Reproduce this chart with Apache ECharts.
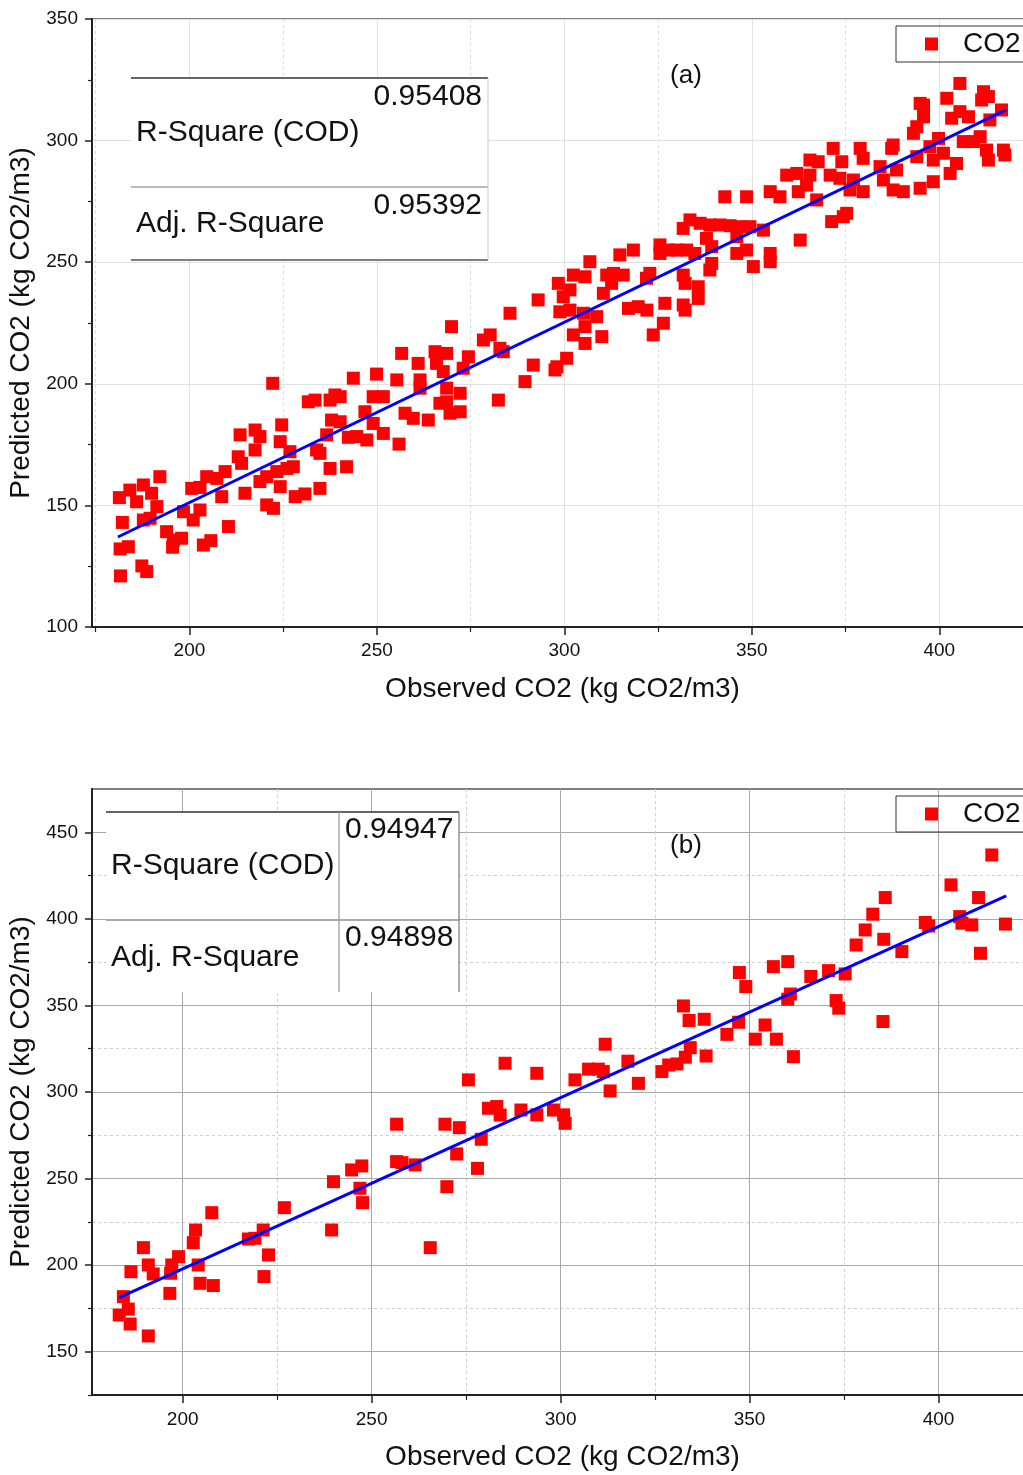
<!DOCTYPE html>
<html>
<head>
<meta charset="utf-8">
<title>Observed vs Predicted CO2</title>
<script src="https://cdn.jsdelivr.net/npm/echarts@6.0.0/dist/echarts.min.js"></script>
<style>
  html, body { margin: 0; padding: 0; background: #fff; }
  #chart { width: 1023px; height: 1475px; }
</style>
</head>
<body>
<div id="chart"></div>
<script>
// ---- data: [observed, predicted] ----
var pointsA = [
  [181.3,153.2],[184.1,156.3],[187.7,158.4],[185.9,151.5],[189.9,155.0],[191.3,149.5],[192.1,161.8],[182.1,143.0],[187.7,144.0],[189.5,144.7],
  [181.5,132.1],[183.7,133.0],[187.3,125.1],[188.6,122.8],[181.6,121.0],[193.9,139.2],[195.7,135.8],[197.9,136.5],[195.5,132.8],[203.7,133.7],
  [205.7,135.5],[210.4,141.3],[198.4,147.4],[201.0,144.0],[202.8,148.1],[200.6,157.0],[202.8,157.4],[204.6,161.8],[207.3,161.1],[209.5,163.9],
  [208.6,153.6],[213.5,179.0],[217.5,181.0],[218.8,178.3],[217.5,172.8],[213.0,170.0],[213.9,167.3],[214.8,155.0],[218.8,159.8],[220.6,161.8],
  [220.6,150.2],[222.4,148.8],[224.2,157.7],[224.6,183.1],[224.2,176.2],[226.8,172.1],[223.3,163.9],[226.0,165.2],[227.7,165.9],[228.2,153.6],
  [230.8,154.7],[234.8,157.0],[222.2,200.2],[231.7,192.6],[233.5,193.3],[237.5,193.3],[238.8,195.4],[240.2,194.7],[237.9,185.1],[240.2,184.4],
  [236.6,179.0],[233.9,172.8],[234.8,171.4],[237.5,165.2],[241.9,165.9],[242.4,178.0],[244.6,178.3],[247.3,176.9],[243.7,202.3],[249.9,204.0],
  [249.0,194.7],[251.7,194.7],[246.8,188.5],[249.0,183.7],[251.7,179.6],
  [255.3,201.6],[256.6,212.5],[261.0,208.4],[261.5,201.6],[261.5,198.2],[257.5,187.9],[259.7,185.8],[263.7,185.1],[265.5,213.2],[268.6,212.5],
  [265.9,208.4],[267.7,205.0],[269.9,223.5],[274.4,211.1],[273.0,206.4],[268.6,198.2],[272.2,196.1],[266.8,192.0],[268.6,192.6],[272.2,188.5],
  [269.5,187.9],[278.4,218.0],[280.2,220.1],[282.8,214.6],[283.7,213.2],[285.5,229.0],[282.4,193.3],[289.5,200.9],[291.7,207.7],[293.0,234.5],
  [298.0,207.0],[300.6,210.5],[297.5,205.7],[298.4,241.3],[302.4,244.7],[299.7,235.8],[301.5,238.6],[298.8,229.6],[301.5,230.3],[302.4,220.1],
  [255.9,175.2],
  [306.8,250.2],[305.5,244.0],[311.3,244.7],[313.1,245.4],[315.7,244.7],[310.4,237.2],[312.6,241.3],[314.8,253.0],[318.4,255.0],[322.8,245.4],
  [321.9,243.4],[325.5,257.1],[325.5,253.6],[327.7,255.0],[330.0,255.0],[332.6,255.0],[334.8,253.6],[305.1,229.0],[308.6,227.6],[305.5,223.5],
  [310.0,219.4],[305.5,216.6],[317.1,231.0],[319.7,231.7],[322.0,230.3],[326.8,233.1],[323.7,220.1],[326.4,224.9],[331.7,232.4],[332.2,230.3],
  [331.7,244.7],[332.2,241.3],[335.7,239.9],[335.7,235.1],[338.8,246.8],[339.3,249.5],[331.7,263.9],[333.5,267.4],[336.2,266.0],[338.8,265.3],
  [341.5,265.3],[344.2,265.0],[346.8,264.6],[349.5,264.6],[353.1,263.2],[337.9,259.8],[339.3,256.4],[346.0,253.6],[348.6,255.0],[346.0,260.5],
  [350.4,248.2],[354.9,250.2],[354.9,253.6],[362.9,259.1],[342.8,276.9],[348.6,276.9],[354.9,279.0],[357.5,276.9],[359.3,285.8],[362.0,286.5],
  [362.4,279.0],[364.6,281.7],[365.5,292.0],[367.7,291.3],[365.5,285.8],[367.3,275.6],[371.7,296.8],[374.0,291.3],[370.9,285.8],[373.5,284.5],
  [371.3,266.7],[374.4,268.7],[375.3,270.1],[376.2,279.7],[379.7,279.0],[377.1,283.8],[378.9,296.8],[379.7,292.7],[384.2,289.3],[385.1,283.8],
  [387.7,279.7],[390.4,279.0],[387.3,296.8],[387.7,298.2],[388.6,287.9],[394.9,280.4],[398.4,283.1],[393.1,303.0],[394.0,305.7],[395.8,309.8],
  [395.8,314.6],[394.9,315.3],[394.0,293.4],[397.5,297.5],[399.8,300.9],[398.4,292.0],[401.1,294.8],[402.9,286.5],[404.6,290.6],[402.0,317.4],
  [405.5,323.5],[405.5,311.9],[403.3,309.2],[407.8,309.8],[406.4,299.6],[409.1,299.6],[410.9,301.6],[411.8,320.1],[413.1,318.1],[411.3,316.7],
  [413.5,308.5],[416.6,312.6],[412.6,296.1],[413.1,292.0],[417.1,296.1],[417.5,294.1]
];
var pointsB = [
  [183.2,171.2],[185.6,174.6],[186.1,166.0],[184.3,181.8],[186.3,196.2],[189.6,210.1],[190.9,200.1],[192.2,194.9],[190.9,159.1],[196.6,183.7],
  [197.1,200.1],[196.8,195.3],[198.9,204.9],[202.8,213.0],[203.4,220.3],[204.1,200.1],[204.6,189.5],[208.1,188.2],[207.7,230.3],[217.4,215.1],
  [219.1,215.5],[221.3,220.3],[222.7,205.9],[221.5,193.4],[226.9,233.2],[239.4,220.3],[239.9,248.2],[244.7,255.0],[247.4,257.3],[246.9,244.4],
  [247.6,236.1],[256.6,281.4],[256.6,259.8],[258.0,259.2],[261.5,257.9],[265.5,210.1],[269.4,281.4],[269.9,245.3],[272.5,264.2],[273.2,279.4],
  [278.0,255.9],[279.0,272.7],[275.6,307.0],[280.9,290.6],[283.1,291.6],[284.0,286.7],[289.5,289.6],
  [285.3,316.6],[293.7,310.8],[311.8,327.6],[303.8,307.0],[307.4,313.2],[310.0,313.2],[311.3,311.8],[313.1,300.6],[317.8,317.8],
  [293.7,286.8],[298.1,289.6],[300.8,286.8],[301.2,281.9],[320.6,305.0],
  [326.8,311.8],[328.6,315.6],[330.8,316.2],[333.0,320.1],[334.3,325.6],[332.5,349.7],[334.0,341.3],[338.0,342.0],[338.5,320.8],[344.0,333.3],
  [347.1,340.3],[347.3,369.0],[349.0,360.9],[351.5,330.5],[354.1,338.7],[357.1,330.5],[356.3,372.4],[360.1,375.3],[360.8,356.6],[360.1,353.6],
  [361.6,320.4],[366.2,366.7],[370.9,370.1],[375.3,368.2],[372.9,352.8],[373.6,348.4],[378.2,384.9],[380.6,393.6],[382.6,402.7],[385.9,412.3],
  [385.5,388.2],[385.3,340.7],[390.3,381.1],[396.5,397.9],[397.4,395.9],[403.3,419.6],[405.6,401.3],[406.2,397.5],[408.8,396.5],[410.6,412.3],
  [411.1,380.1],[414.1,436.9],[417.7,397.0]
];
// linear fit end points
var fitA = [[180.9, 137.0], [417.8, 312.6]];
var fitB = [[183.2, 181.2], [417.9, 413.3]];

// tick values
var xMajor = [200, 250, 300, 350, 400];
var xMinor = [175, 225, 275, 325, 375, 425];
var yMajorA = [100, 150, 200, 250, 300, 350];
var yMinorA = [125, 175, 225, 275, 325];
var yMajorB = [150, 200, 250, 300, 350, 400, 450];
var yMinorB = [125, 175, 225, 275, 325, 375, 425];

var statsA = ['0.95408', '0.95392'];
var statsB = ['0.94947', '0.94898'];
var statNames = ['R-Square (COD)', 'Adj. R-Square'];

var FONT = "'Liberation Sans', Arial, sans-serif";

var chart = echarts.init(document.getElementById('chart'));

function majorAxis(grid, min, max, ticks, opts) {
  return {
    type: 'value', gridIndex: grid, min: min, max: max, position: opts.pos,
    name: opts.name, nameLocation: 'middle', nameGap: opts.nameGap,
    nameTextStyle: { fontSize: 28, fontFamily: FONT, color: '#111' },
    axisLine: { show: true, lineStyle: { color: '#222', width: 2 } },
    axisTick: { show: true, length: opts.tickLen, customValues: ticks, lineStyle: { color: '#222', width: 1.5 } },
    axisLabel: { customValues: ticks, fontSize: 19, fontFamily: FONT, color: '#111', margin: opts.margin },
    splitLine: { show: true, lineStyle: { color: opts.gridColor, width: 1 } }
  };
}

function minorAxis(grid, min, max, ticks, pos, tickLen, lineColor) {
  return {
    type: 'value', gridIndex: grid, min: min, max: max, position: pos,
    axisLine: { show: false },
    axisTick: { show: true, length: tickLen, customValues: ticks, lineStyle: { color: '#222', width: 1.2 } },
    axisLabel: { show: false },
    splitLine: { show: !!lineColor, lineStyle: { color: lineColor || '#ccc', width: 1, type: [3, 3] } }
  };
}

function legendBox(top) {
  return {
    data: ['CO2'], left: 896, top: top, orient: 'horizontal',
    padding: [4, 29, 4, 29], icon: 'rect', itemWidth: 13, itemHeight: 13,
    borderColor: '#333', borderWidth: 1,
    textStyle: { fontSize: 28, fontFamily: FONT, color: '#111', padding: [0, 0, 0, 20] }
  };
}

function txt(x, y, s, size, align) {
  return { type: 'text', z: 100, x: x, y: y,
    style: { text: s, fontSize: size, fontFamily: FONT, fill: '#111', align: align || 'left', verticalAlign: 'middle' } };
}
function ln(x1, y1, x2, y2, color, w) {
  return { type: 'line', z: 100, shape: { x1: x1, y1: y1, x2: x2, y2: y2 }, style: { stroke: color, lineWidth: w || 1 } };
}
function box(x, y, w, h) {
  return { type: 'rect', z: 99, shape: { x: x, y: y, width: w, height: h }, style: { fill: '#fff' } };
}

chart.setOption({
  animation: false,
  backgroundColor: '#fff',
  grid: [
    { left: 92, top: 19, right: -10, height: 608, show: true, borderColor: '#555', borderWidth: 1.5, outerBoundsMode: 'none' },
    { left: 92, top: 789, right: -10, height: 606, show: true, borderColor: '#555', borderWidth: 1.5, outerBoundsMode: 'none' }
  ],
  legend: [legendBox(26), legendBox(796)],
  xAxis: [
    majorAxis(0, 174, 425, xMajor, { pos: 'bottom', name: 'Observed CO2 (kg CO2/m3)', nameGap: 48, tickLen: 8, margin: 14, gridColor: '#e2e2e2' }),
    minorAxis(0, 174, 425, xMinor, 'bottom', 5, '#dcdcdc'),
    majorAxis(1, 176, 425, xMajor, { pos: 'bottom', name: 'Observed CO2 (kg CO2/m3)', nameGap: 48, tickLen: 8, margin: 15, gridColor: '#a8a8a8' }),
    minorAxis(1, 176, 425, xMinor, 'bottom', 5, '#cfcfcf')
  ],
  yAxis: [
    majorAxis(0, 100, 350, yMajorA, { pos: 'left', name: 'Predicted CO2 (kg CO2/m3)', nameGap: 54, tickLen: 7, margin: 14, gridColor: '#e2e2e2' }),
    minorAxis(0, 100, 350, yMinorA, 'left', 4, null),
    majorAxis(1, 125, 475, yMajorB, { pos: 'left', name: 'Predicted CO2 (kg CO2/m3)', nameGap: 54, tickLen: 7, margin: 14, gridColor: '#a8a8a8' }),
    minorAxis(1, 125, 475, yMinorB, 'left', 4, '#cfcfcf')
  ],
  series: [
    { name: 'CO2', type: 'scatter', xAxisIndex: 0, yAxisIndex: 0, data: pointsA,
      symbol: 'rect', symbolSize: 13, itemStyle: { color: '#ff0000', opacity: 1 } },
    { name: 'fitA', type: 'line', xAxisIndex: 0, yAxisIndex: 0, data: fitA,
      showSymbol: false, lineStyle: { color: '#0000ff', width: 3 }, z: 5 },
    { name: 'CO2', type: 'scatter', xAxisIndex: 2, yAxisIndex: 2, data: pointsB,
      symbol: 'rect', symbolSize: 13, itemStyle: { color: '#ff0000', opacity: 1 } },
    { name: 'fitB', type: 'line', xAxisIndex: 2, yAxisIndex: 2, data: fitB,
      showSymbol: false, lineStyle: { color: '#0000ff', width: 3 }, z: 5 }
  ],
  graphic: [
    // stats table (a)
    box(131, 78, 357, 182),
    ln(131, 78, 488, 78, '#333', 1.5),
    ln(131, 187, 488, 187, '#777', 1),
    ln(131, 260, 488, 260, '#555', 1.5),
    ln(488, 78, 488, 260, '#c8c8c8', 1),
    txt(482, 97, statsA[0], 30, 'right'),
    txt(136, 133, statNames[0], 30),
    txt(482, 206, statsA[1], 30, 'right'),
    txt(136, 224, statNames[1], 30),
    txt(686, 76, '(a)', 26, 'center'),
    // stats table (b)
    box(106, 812, 353, 180),
    ln(106, 812, 459, 812, '#333', 1.5),
    ln(106, 920, 459, 920, '#555', 1),
    ln(339, 812, 339, 992, '#999', 1.2),
    ln(459, 812, 459, 992, '#777', 1.2),
    txt(345, 830, statsB[0], 30),
    txt(111, 866, statNames[0], 30),
    txt(345, 938, statsB[1], 30),
    txt(111, 958, statNames[1], 30),
    txt(686, 846, '(b)', 26, 'center')
  ]
});
</script>
</body>
</html>
